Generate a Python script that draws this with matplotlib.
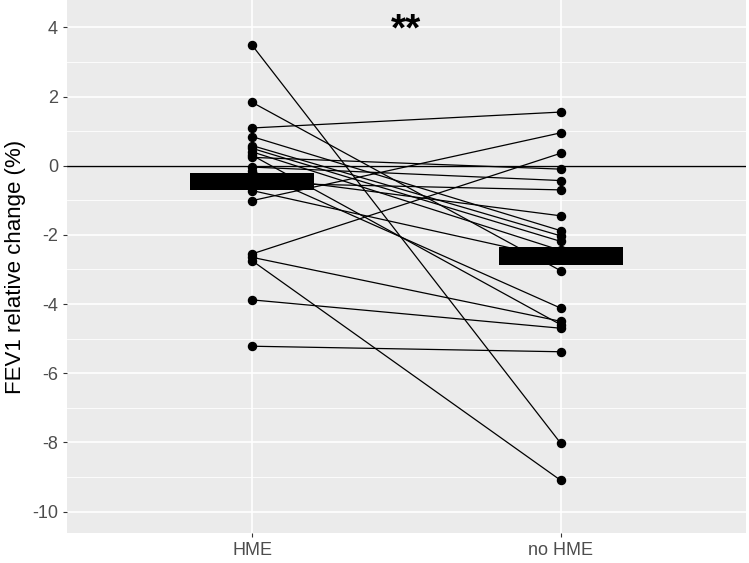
#!/usr/bin/env python3
import numpy as np
import matplotlib
matplotlib.use('Agg')
import matplotlib.pyplot as plt

# paired FEV1 relative change (%) per subject
groups = ['HME', 'no HME']
hme = [3.48, 1.83, 1.09, 0.84, 0.58, 0.50, 0.40, 0.30, 0.24, -0.04,
       -0.15, -0.30, -0.50, -0.72, -1.01, -2.55, -2.65, -2.75, -3.88, -5.22]
no_hme = [-8.03, -3.04, 1.55, -1.88, -2.03, -2.19, -2.45, -4.60, -0.10, -0.43,
          -4.12, -1.45, -0.70, -2.70, 0.95, 0.36, -4.50, -9.10, -4.70, -5.38]
group_means = [-0.46, -2.61]
y_ticks = [4, 2, 0, -2, -4, -6, -8, -10]


def main():
    plt.rcParams['font.family'] = ['Liberation Sans', 'DejaVu Sans']
    fig = plt.figure(figsize=(7.49, 5.63), dpi=100)
    ax = fig.add_axes([67 / 749, (563 - 533) / 563, (746 - 67) / 749, 533 / 563])
    ax.set_facecolor('#EBEBEB')

    # ggplot-like grid
    minor = np.arange(-11, 5, 2)
    for y in minor:
        ax.axhline(y, color='white', lw=0.6, zorder=0)
    for y in y_ticks:
        ax.axhline(y, color='white', lw=1.2, zorder=0)
    for x in [1, 2]:
        ax.axvline(x, color='white', lw=1.2, zorder=0)

    ax.axhline(0, color='black', lw=1.0, zorder=1)

    # paired lines and points
    for a, b in zip(hme, no_hme):
        ax.plot([1, 2], [a, b], color='black', lw=0.9, zorder=2)
    ax.plot(np.ones(len(hme)), hme, 'o', color='black', ms=5.8, zorder=3)
    ax.plot(np.full(len(no_hme), 2), no_hme, 'o', color='black', ms=5.8, zorder=3)

    # group mean bars
    thick = 0.5
    ax.bar([1, 2], [thick, thick], bottom=[m - thick / 2 for m in group_means],
           width=0.4, color='black', zorder=4)

    ax.text(1.5, 3.62, '**', ha='center', va='baseline', fontsize=28,
            fontweight='bold', color='black')

    ax.set_xlim(0.4, 2.6)
    ax.set_ylim(-10.62, 4.79)
    ax.set_xticks([1, 2])
    ax.set_xticklabels(groups)
    ax.set_yticks(y_ticks)
    ax.set_yticklabels([str(t) for t in y_ticks])
    ax.tick_params(colors='#333333', labelcolor='#4D4D4D', labelsize=13,
                   length=3, width=0.8)
    ax.set_ylabel('FEV1 relative change (%)', fontsize=16, color='black')
    for s in ax.spines.values():
        s.set_visible(False)

    fig.savefig('out.png', dpi=100)


if __name__ == "__main__":
    main()
